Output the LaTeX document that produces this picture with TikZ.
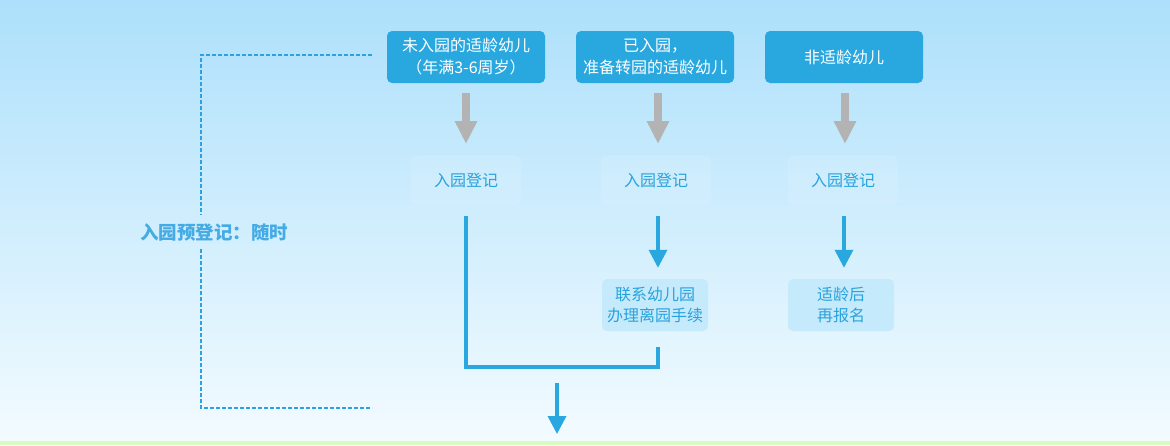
\documentclass[tikz,border=0pt]{standalone}
\usepackage{fontspec}
\newfontfamily\cjk{Noto Sans CJK SC}
\usetikzlibrary{arrows.meta}
\definecolor{bgtop}{HTML}{ADE0FB}
\definecolor{bgbot}{HTML}{F3FBFF}
\definecolor{boxblue}{HTML}{29A8E0}
\definecolor{txtblue}{HTML}{2AA2DC}
\definecolor{lblblue}{HTML}{45ABE5}
\definecolor{dashblue}{HTML}{2EA2E0}
\definecolor{grayarr}{HTML}{B3B3B3}
\definecolor{greenstrip}{HTML}{D8FBC2}
\definecolor{softbox}{HTML}{C4EAFC}
\tikzset{
  topbox/.style={fill=boxblue, rounded corners=5pt, minimum width=158pt, minimum height=52pt,
    text=white, font=\cjk\fontsize{16}{22}\selectfont, align=center, inner sep=0pt},
  regbox/.style={fill=white, fill opacity=0.1, text opacity=1, rounded corners=7pt, minimum width=110pt,
    minimum height=50pt, text=txtblue, font=\cjk\fontsize{16}{21}\selectfont, inner sep=0pt},
  resbox/.style={fill=softbox, rounded corners=5pt, minimum width=106pt, minimum height=52pt,
    text=txtblue, font=\cjk\fontsize{16}{21}\selectfont, align=center, inner sep=0pt},
  grayarrow/.style={draw=grayarr, line width=8.5pt, -{Triangle[width=21pt,length=23pt]}},
  bluearrow/.style={draw=boxblue, line width=3.5pt, -{Triangle[width=18pt,length=18pt]}},
  blueline/.style={draw=boxblue, line width=4pt},
  dashline/.style={draw=dashblue, line width=1.3pt, dash pattern=on 4pt off 2pt},
}
\begin{document}
\begin{tikzpicture}[x=1pt,y=-1pt]
\useasboundingbox (0,0) rectangle (1170,445);
\shade[top color=bgtop, bottom color=bgbot] (0,0) rectangle (1170,442);
\fill[greenstrip] (0,441) rectangle (1170,445);

% top boxes
\node[topbox] (t1) at (466,57) {未入园的适龄幼儿\\（年满3-6周岁）};
\node[topbox] (t2) at (655,57) {已入园，\\准备转园的适龄幼儿};
\node[topbox] (t3) at (844,57) {非适龄幼儿};

% registration boxes
\node[regbox] (m1) at (466,180) {入园登记};
\node[regbox] (m2) at (656,180) {入园登记};
\node[regbox] (m3) at (843,180) {入园登记};

% result boxes
\node[resbox] (r2) at (655,305) {联系幼儿园\\办理离园手续};
\node[resbox] (r3) at (841,305) {适龄后\\再报名};

% gray arrows
\coordinate (g1a) at (466,93);  \coordinate (g1b) at (466,144);
\coordinate (g2a) at (658,93);  \coordinate (g2b) at (658,144);
\coordinate (g3a) at (845,93);  \coordinate (g3b) at (845,144);
\draw[grayarrow] (g1a) -- (g1b);
\draw[grayarrow] (g2a) -- (g2b);
\draw[grayarrow] (g3a) -- (g3b);

% blue arrows to results
\draw[bluearrow, shorten <=11pt, shorten >=11pt] (m2.south -| 658,0) -- (r2.north -| 658,0);
\draw[bluearrow, shorten <=11pt, shorten >=11pt] (m3.south -| 844,0) -- (r3.north -| 844,0);

% merge line
\coordinate (c1) at (466,367);
\coordinate (c2) at (658,367);
\coordinate (c3) at (658,347);
\draw[blueline] (m1.south) ++(0,11) -- (c1) -- (c2) -- (c3);

% final arrow
\coordinate (fa) at (557,383);
\coordinate (fb) at (557,434);
\draw[bluearrow] (fa) -- (fb);

% left bracket
\node[text=lblblue, font=\cjk\bfseries\fontsize{18.5}{20}\selectfont, inner sep=1pt] (lbl) at (214,233) {入园预登记：随时};
\coordinate (bt) at (372,55);
\coordinate (bb) at (372,408);
\draw[dashline] (bt) -- (201,55) -- (201,215);
\draw[dashline] (201,249) -- (201,408) -- (bb);
\end{tikzpicture}
\end{document}
